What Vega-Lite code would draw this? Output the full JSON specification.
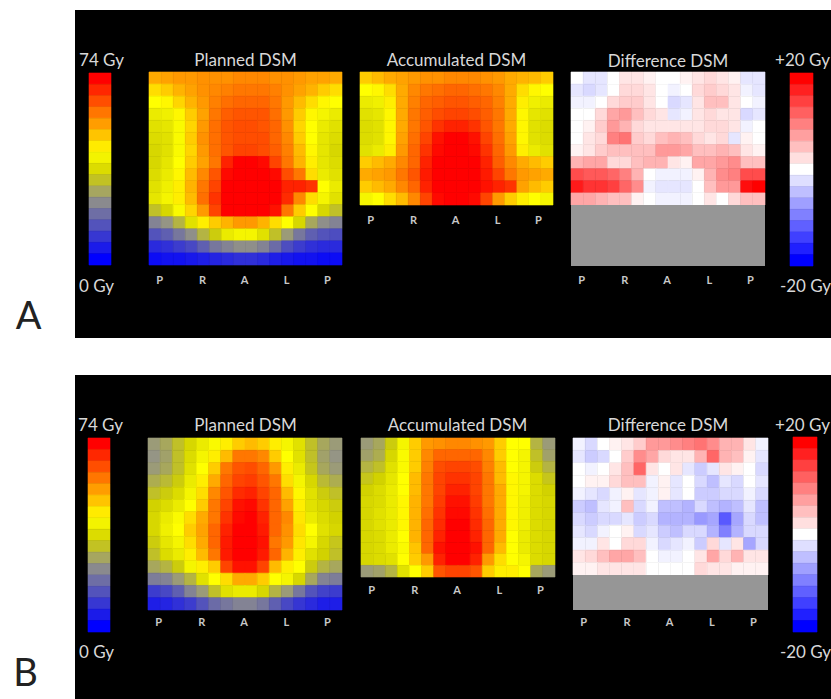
{"$schema":"https://vega.github.io/schema/vega-lite/v6.json","padding":{"top":10,"left":0,"right":0,"bottom":0},"background":"white","columns":6,"align":"each","bounds":"flush","spacing":{"row":37,"column":0},"resolve":{"scale":{"color":"independent","stroke":"independent"}},
"config":{"view":{"fill":"black","stroke":null},"font":"Lato","title":{"color":"#d8d8d8","fontSize":17,"fontWeight":"normal","font":"Lato","baseline":"bottom","frame":"group"},"axis":{"domain":false,"ticks":false,"grid":false},"rect":{"strokeWidth":0.6}},
"datasets":{"lab":[{"a":0,"b":1}],"gA":[{"a":0,"b":1,"c":0,"d":1}],
"a1":[
{"c":0,"r":0,"v":54},{"c":1,"r":0,"v":55},{"c":2,"r":0,"v":56},{"c":3,"r":0,"v":56},{"c":4,"r":0,"v":57},{"c":5,"r":0,"v":57},{"c":6,"r":0,"v":57},{"c":7,"r":0,"v":58},{"c":8,"r":0,"v":58},{"c":9,"r":0,"v":58},{"c":10,"r":0,"v":57},{"c":11,"r":0,"v":57},{"c":12,"r":0,"v":56},{"c":13,"r":0,"v":55},{"c":14,"r":0,"v":55},{"c":15,"r":0,"v":54},
{"c":0,"r":1,"v":48},{"c":1,"r":1,"v":50},{"c":2,"r":1,"v":53},{"c":3,"r":1,"v":55},{"c":4,"r":1,"v":57},{"c":5,"r":1,"v":58},{"c":6,"r":1,"v":59},{"c":7,"r":1,"v":60},{"c":8,"r":1,"v":60},{"c":9,"r":1,"v":60},{"c":10,"r":1,"v":59},{"c":11,"r":1,"v":57},{"c":12,"r":1,"v":55},{"c":13,"r":1,"v":53},{"c":14,"r":1,"v":50},{"c":15,"r":1,"v":48},
{"c":0,"r":2,"v":44},{"c":1,"r":2,"v":45},{"c":2,"r":2,"v":49},{"c":3,"r":2,"v":53},{"c":4,"r":2,"v":56},{"c":5,"r":2,"v":59},{"c":6,"r":2,"v":61},{"c":7,"r":2,"v":62},{"c":8,"r":2,"v":62},{"c":9,"r":2,"v":62},{"c":10,"r":2,"v":60},{"c":11,"r":2,"v":56},{"c":12,"r":2,"v":52},{"c":13,"r":2,"v":48},{"c":14,"r":2,"v":45},{"c":15,"r":2,"v":44},
{"c":0,"r":3,"v":40},{"c":1,"r":3,"v":41},{"c":2,"r":3,"v":45},{"c":3,"r":3,"v":50},{"c":4,"r":3,"v":55},{"c":5,"r":3,"v":60},{"c":6,"r":3,"v":63},{"c":7,"r":3,"v":64},{"c":8,"r":3,"v":64},{"c":9,"r":3,"v":64},{"c":10,"r":3,"v":61},{"c":11,"r":3,"v":56},{"c":12,"r":3,"v":50},{"c":13,"r":3,"v":45},{"c":14,"r":3,"v":42},{"c":15,"r":3,"v":40},
{"c":0,"r":4,"v":38},{"c":1,"r":4,"v":39},{"c":2,"r":4,"v":43},{"c":3,"r":4,"v":49},{"c":4,"r":4,"v":56},{"c":5,"r":4,"v":61},{"c":6,"r":4,"v":64},{"c":7,"r":4,"v":65},{"c":8,"r":4,"v":65},{"c":9,"r":4,"v":64},{"c":10,"r":4,"v":62},{"c":11,"r":4,"v":57},{"c":12,"r":4,"v":49},{"c":13,"r":4,"v":44},{"c":14,"r":4,"v":40},{"c":15,"r":4,"v":38},
{"c":0,"r":5,"v":37},{"c":1,"r":5,"v":38},{"c":2,"r":5,"v":43},{"c":3,"r":5,"v":50},{"c":4,"r":5,"v":57},{"c":5,"r":5,"v":61},{"c":6,"r":5,"v":64},{"c":7,"r":5,"v":65},{"c":8,"r":5,"v":65},{"c":9,"r":5,"v":65},{"c":10,"r":5,"v":62},{"c":11,"r":5,"v":58},{"c":12,"r":5,"v":50},{"c":13,"r":5,"v":44},{"c":14,"r":5,"v":39},{"c":15,"r":5,"v":37},
{"c":0,"r":6,"v":36},{"c":1,"r":6,"v":38},{"c":2,"r":6,"v":43},{"c":3,"r":6,"v":49},{"c":4,"r":6,"v":56},{"c":5,"r":6,"v":61},{"c":6,"r":6,"v":64},{"c":7,"r":6,"v":66},{"c":8,"r":6,"v":66},{"c":9,"r":6,"v":65},{"c":10,"r":6,"v":63},{"c":11,"r":6,"v":59},{"c":12,"r":6,"v":52},{"c":13,"r":6,"v":45},{"c":14,"r":6,"v":39},{"c":15,"r":6,"v":36},
{"c":0,"r":7,"v":36},{"c":1,"r":7,"v":39},{"c":2,"r":7,"v":44},{"c":3,"r":7,"v":50},{"c":4,"r":7,"v":55},{"c":5,"r":7,"v":60},{"c":6,"r":7,"v":70},{"c":7,"r":7,"v":74},{"c":8,"r":7,"v":74},{"c":9,"r":7,"v":73},{"c":10,"r":7,"v":66},{"c":11,"r":7,"v":60},{"c":12,"r":7,"v":53},{"c":13,"r":7,"v":46},{"c":14,"r":7,"v":39},{"c":15,"r":7,"v":37},
{"c":0,"r":8,"v":37},{"c":1,"r":8,"v":40},{"c":2,"r":8,"v":45},{"c":3,"r":8,"v":52},{"c":4,"r":8,"v":58},{"c":5,"r":8,"v":64},{"c":6,"r":8,"v":73},{"c":7,"r":8,"v":74},{"c":8,"r":8,"v":74},{"c":9,"r":8,"v":74},{"c":10,"r":8,"v":73},{"c":11,"r":8,"v":65},{"c":12,"r":8,"v":60},{"c":13,"r":8,"v":48},{"c":14,"r":8,"v":40},{"c":15,"r":8,"v":38},
{"c":0,"r":9,"v":38},{"c":1,"r":9,"v":41},{"c":2,"r":9,"v":46},{"c":3,"r":9,"v":53},{"c":4,"r":9,"v":60},{"c":5,"r":9,"v":66},{"c":6,"r":9,"v":74},{"c":7,"r":9,"v":74},{"c":8,"r":9,"v":74},{"c":9,"r":9,"v":74},{"c":10,"r":9,"v":74},{"c":11,"r":9,"v":70},{"c":12,"r":9,"v":70},{"c":13,"r":9,"v":68},{"c":14,"r":9,"v":44},{"c":15,"r":9,"v":40},
{"c":0,"r":10,"v":39},{"c":1,"r":10,"v":42},{"c":2,"r":10,"v":46},{"c":3,"r":10,"v":52},{"c":4,"r":10,"v":61},{"c":5,"r":10,"v":68},{"c":6,"r":10,"v":74},{"c":7,"r":10,"v":74},{"c":8,"r":10,"v":74},{"c":9,"r":10,"v":74},{"c":10,"r":10,"v":74},{"c":11,"r":10,"v":69},{"c":12,"r":10,"v":58},{"c":13,"r":10,"v":48},{"c":14,"r":10,"v":42},{"c":15,"r":10,"v":38},
{"c":0,"r":11,"v":32},{"c":1,"r":11,"v":36},{"c":2,"r":11,"v":43},{"c":3,"r":11,"v":49},{"c":4,"r":11,"v":56},{"c":5,"r":11,"v":66},{"c":6,"r":11,"v":74},{"c":7,"r":11,"v":74},{"c":8,"r":11,"v":74},{"c":9,"r":11,"v":74},{"c":10,"r":11,"v":72},{"c":11,"r":11,"v":60},{"c":12,"r":11,"v":50},{"c":13,"r":11,"v":44},{"c":14,"r":11,"v":36},{"c":15,"r":11,"v":32},
{"c":0,"r":12,"v":22},{"c":1,"r":12,"v":25},{"c":2,"r":12,"v":30},{"c":3,"r":12,"v":38},{"c":4,"r":12,"v":46},{"c":5,"r":12,"v":50},{"c":6,"r":12,"v":53},{"c":7,"r":12,"v":56},{"c":8,"r":12,"v":56},{"c":9,"r":12,"v":53},{"c":10,"r":12,"v":48},{"c":11,"r":12,"v":44},{"c":12,"r":12,"v":36},{"c":13,"r":12,"v":28},{"c":14,"r":12,"v":24},{"c":15,"r":12,"v":22},
{"c":0,"r":13,"v":14},{"c":1,"r":13,"v":16},{"c":2,"r":13,"v":20},{"c":3,"r":13,"v":24},{"c":4,"r":13,"v":30},{"c":5,"r":13,"v":34},{"c":6,"r":13,"v":40},{"c":7,"r":13,"v":42},{"c":8,"r":13,"v":42},{"c":9,"r":13,"v":38},{"c":10,"r":13,"v":32},{"c":11,"r":13,"v":26},{"c":12,"r":13,"v":20},{"c":13,"r":13,"v":16},{"c":14,"r":13,"v":14},{"c":15,"r":13,"v":13},
{"c":0,"r":14,"v":7},{"c":1,"r":14,"v":8},{"c":2,"r":14,"v":10},{"c":3,"r":14,"v":12},{"c":4,"r":14,"v":16},{"c":5,"r":14,"v":20},{"c":6,"r":14,"v":22},{"c":7,"r":14,"v":24},{"c":8,"r":14,"v":24},{"c":9,"r":14,"v":22},{"c":10,"r":14,"v":18},{"c":11,"r":14,"v":13},{"c":12,"r":14,"v":10},{"c":13,"r":14,"v":8},{"c":14,"r":14,"v":7},{"c":15,"r":14,"v":7},
{"c":0,"r":15,"v":2},{"c":1,"r":15,"v":3},{"c":2,"r":15,"v":3},{"c":3,"r":15,"v":4},{"c":4,"r":15,"v":5},{"c":5,"r":15,"v":6},{"c":6,"r":15,"v":7},{"c":7,"r":15,"v":8},{"c":8,"r":15,"v":8},{"c":9,"r":15,"v":7},{"c":10,"r":15,"v":5},{"c":11,"r":15,"v":4},{"c":12,"r":15,"v":3},{"c":13,"r":15,"v":3},{"c":14,"r":15,"v":2},{"c":15,"r":15,"v":2}],
"a2":[
{"c":0,"r":0,"v":50},{"c":1,"r":0,"v":52},{"c":2,"r":0,"v":54},{"c":3,"r":0,"v":55},{"c":4,"r":0,"v":56},{"c":5,"r":0,"v":57},{"c":6,"r":0,"v":57},{"c":7,"r":0,"v":58},{"c":8,"r":0,"v":58},{"c":9,"r":0,"v":58},{"c":10,"r":0,"v":57},{"c":11,"r":0,"v":56},{"c":12,"r":0,"v":54},{"c":13,"r":0,"v":53},{"c":14,"r":0,"v":52},{"c":15,"r":0,"v":50},
{"c":0,"r":1,"v":44},{"c":1,"r":1,"v":45},{"c":2,"r":1,"v":48},{"c":3,"r":1,"v":54},{"c":4,"r":1,"v":58},{"c":5,"r":1,"v":60},{"c":6,"r":1,"v":61},{"c":7,"r":1,"v":62},{"c":8,"r":1,"v":62},{"c":9,"r":1,"v":61},{"c":10,"r":1,"v":60},{"c":11,"r":1,"v":58},{"c":12,"r":1,"v":54},{"c":13,"r":1,"v":48},{"c":14,"r":1,"v":45},{"c":15,"r":1,"v":44},
{"c":0,"r":2,"v":40},{"c":1,"r":2,"v":41},{"c":2,"r":2,"v":46},{"c":3,"r":2,"v":54},{"c":4,"r":2,"v":59},{"c":5,"r":2,"v":62},{"c":6,"r":2,"v":63},{"c":7,"r":2,"v":64},{"c":8,"r":2,"v":64},{"c":9,"r":2,"v":63},{"c":10,"r":2,"v":62},{"c":11,"r":2,"v":59},{"c":12,"r":2,"v":54},{"c":13,"r":2,"v":46},{"c":14,"r":2,"v":41},{"c":15,"r":2,"v":40},
{"c":0,"r":3,"v":38},{"c":1,"r":3,"v":39},{"c":2,"r":3,"v":45},{"c":3,"r":3,"v":54},{"c":4,"r":3,"v":60},{"c":5,"r":3,"v":63},{"c":6,"r":3,"v":65},{"c":7,"r":3,"v":66},{"c":8,"r":3,"v":66},{"c":9,"r":3,"v":65},{"c":10,"r":3,"v":63},{"c":11,"r":3,"v":60},{"c":12,"r":3,"v":54},{"c":13,"r":3,"v":45},{"c":14,"r":3,"v":39},{"c":15,"r":3,"v":38},
{"c":0,"r":4,"v":37},{"c":1,"r":4,"v":38},{"c":2,"r":4,"v":45},{"c":3,"r":4,"v":54},{"c":4,"r":4,"v":60},{"c":5,"r":4,"v":64},{"c":6,"r":4,"v":68},{"c":7,"r":4,"v":70},{"c":8,"r":4,"v":70},{"c":9,"r":4,"v":68},{"c":10,"r":4,"v":64},{"c":11,"r":4,"v":60},{"c":12,"r":4,"v":54},{"c":13,"r":4,"v":45},{"c":14,"r":4,"v":38},{"c":15,"r":4,"v":37},
{"c":0,"r":5,"v":37},{"c":1,"r":5,"v":38},{"c":2,"r":5,"v":45},{"c":3,"r":5,"v":55},{"c":4,"r":5,"v":61},{"c":5,"r":5,"v":66},{"c":6,"r":5,"v":72},{"c":7,"r":5,"v":74},{"c":8,"r":5,"v":74},{"c":9,"r":5,"v":72},{"c":10,"r":5,"v":66},{"c":11,"r":5,"v":61},{"c":12,"r":5,"v":55},{"c":13,"r":5,"v":45},{"c":14,"r":5,"v":38},{"c":15,"r":5,"v":37},
{"c":0,"r":6,"v":38},{"c":1,"r":6,"v":40},{"c":2,"r":6,"v":46},{"c":3,"r":6,"v":56},{"c":4,"r":6,"v":62},{"c":5,"r":6,"v":68},{"c":6,"r":6,"v":73},{"c":7,"r":6,"v":74},{"c":8,"r":6,"v":74},{"c":9,"r":6,"v":73},{"c":10,"r":6,"v":68},{"c":11,"r":6,"v":62},{"c":12,"r":6,"v":56},{"c":13,"r":6,"v":46},{"c":14,"r":6,"v":40},{"c":15,"r":6,"v":38},
{"c":0,"r":7,"v":50},{"c":1,"r":7,"v":52},{"c":2,"r":7,"v":54},{"c":3,"r":7,"v":58},{"c":4,"r":7,"v":62},{"c":5,"r":7,"v":70},{"c":6,"r":7,"v":74},{"c":7,"r":7,"v":74},{"c":8,"r":7,"v":74},{"c":9,"r":7,"v":74},{"c":10,"r":7,"v":70},{"c":11,"r":7,"v":63},{"c":12,"r":7,"v":58},{"c":13,"r":7,"v":54},{"c":14,"r":7,"v":52},{"c":15,"r":7,"v":50},
{"c":0,"r":8,"v":54},{"c":1,"r":8,"v":55},{"c":2,"r":8,"v":56},{"c":3,"r":8,"v":60},{"c":4,"r":8,"v":64},{"c":5,"r":8,"v":71},{"c":6,"r":8,"v":74},{"c":7,"r":8,"v":74},{"c":8,"r":8,"v":74},{"c":9,"r":8,"v":74},{"c":10,"r":8,"v":71},{"c":11,"r":8,"v":66},{"c":12,"r":8,"v":60},{"c":13,"r":8,"v":56},{"c":14,"r":8,"v":55},{"c":15,"r":8,"v":54},
{"c":0,"r":9,"v":50},{"c":1,"r":9,"v":52},{"c":2,"r":9,"v":54},{"c":3,"r":9,"v":58},{"c":4,"r":9,"v":62},{"c":5,"r":9,"v":70},{"c":6,"r":9,"v":74},{"c":7,"r":9,"v":74},{"c":8,"r":9,"v":74},{"c":9,"r":9,"v":74},{"c":10,"r":9,"v":72},{"c":11,"r":9,"v":70},{"c":12,"r":9,"v":68},{"c":13,"r":9,"v":55},{"c":14,"r":9,"v":52},{"c":15,"r":9,"v":50},
{"c":0,"r":10,"v":42},{"c":1,"r":10,"v":44},{"c":2,"r":10,"v":48},{"c":3,"r":10,"v":52},{"c":4,"r":10,"v":58},{"c":5,"r":10,"v":66},{"c":6,"r":10,"v":73},{"c":7,"r":10,"v":74},{"c":8,"r":10,"v":74},{"c":9,"r":10,"v":73},{"c":10,"r":10,"v":66},{"c":11,"r":10,"v":56},{"c":12,"r":10,"v":50},{"c":13,"r":10,"v":46},{"c":14,"r":10,"v":44},{"c":15,"r":10,"v":42}],
"a3":[
{"c":0,"r":0,"v":0},{"c":1,"r":0,"v":-2},{"c":2,"r":0,"v":-2},{"c":3,"r":0,"v":0},{"c":4,"r":0,"v":2},{"c":5,"r":0,"v":2},{"c":6,"r":0,"v":1},{"c":7,"r":0,"v":0},{"c":8,"r":0,"v":0},{"c":9,"r":0,"v":1},{"c":10,"r":0,"v":2},{"c":11,"r":0,"v":3},{"c":12,"r":0,"v":2},{"c":13,"r":0,"v":1},{"c":14,"r":0,"v":-2},{"c":15,"r":0,"v":-2},
{"c":0,"r":1,"v":-2},{"c":1,"r":1,"v":-3},{"c":2,"r":1,"v":-2},{"c":3,"r":1,"v":0},{"c":4,"r":1,"v":3},{"c":5,"r":1,"v":3},{"c":6,"r":1,"v":2},{"c":7,"r":1,"v":0},{"c":8,"r":1,"v":-1},{"c":9,"r":1,"v":0},{"c":10,"r":1,"v":3},{"c":11,"r":1,"v":4},{"c":12,"r":1,"v":3},{"c":13,"r":1,"v":2},{"c":14,"r":1,"v":-1},{"c":15,"r":1,"v":-2},
{"c":0,"r":2,"v":-1},{"c":1,"r":2,"v":-1},{"c":2,"r":2,"v":0},{"c":3,"r":2,"v":3},{"c":4,"r":2,"v":4},{"c":5,"r":2,"v":4},{"c":6,"r":2,"v":2},{"c":7,"r":2,"v":0},{"c":8,"r":2,"v":-3},{"c":9,"r":2,"v":-2},{"c":10,"r":2,"v":2},{"c":11,"r":2,"v":5},{"c":12,"r":2,"v":5},{"c":13,"r":2,"v":2},{"c":14,"r":2,"v":0},{"c":15,"r":2,"v":-1},
{"c":0,"r":3,"v":0},{"c":1,"r":3,"v":0},{"c":2,"r":3,"v":3},{"c":3,"r":3,"v":7},{"c":4,"r":3,"v":8},{"c":5,"r":3,"v":5},{"c":6,"r":3,"v":3},{"c":7,"r":3,"v":2},{"c":8,"r":3,"v":-2},{"c":9,"r":3,"v":-1},{"c":10,"r":3,"v":2},{"c":11,"r":3,"v":3},{"c":12,"r":3,"v":2},{"c":13,"r":3,"v":2},{"c":14,"r":3,"v":-3},{"c":15,"r":3,"v":-2},
{"c":0,"r":4,"v":0},{"c":1,"r":4,"v":1},{"c":2,"r":4,"v":4},{"c":3,"r":4,"v":8},{"c":4,"r":4,"v":6},{"c":5,"r":4,"v":3},{"c":6,"r":4,"v":2},{"c":7,"r":4,"v":2},{"c":8,"r":4,"v":2},{"c":9,"r":4,"v":2},{"c":10,"r":4,"v":2},{"c":11,"r":4,"v":3},{"c":12,"r":4,"v":3},{"c":13,"r":4,"v":2},{"c":14,"r":4,"v":-1},{"c":15,"r":4,"v":0},
{"c":0,"r":5,"v":0},{"c":1,"r":5,"v":2},{"c":2,"r":5,"v":3},{"c":3,"r":5,"v":10},{"c":4,"r":5,"v":11},{"c":5,"r":5,"v":4},{"c":6,"r":5,"v":3},{"c":7,"r":5,"v":5},{"c":8,"r":5,"v":6},{"c":9,"r":5,"v":5},{"c":10,"r":5,"v":3},{"c":11,"r":5,"v":2},{"c":12,"r":5,"v":3},{"c":13,"r":5,"v":-2},{"c":14,"r":5,"v":1},{"c":15,"r":5,"v":0},
{"c":0,"r":6,"v":1},{"c":1,"r":6,"v":2},{"c":2,"r":6,"v":4},{"c":3,"r":6,"v":5},{"c":4,"r":6,"v":5},{"c":5,"r":6,"v":5},{"c":6,"r":6,"v":5},{"c":7,"r":6,"v":8},{"c":8,"r":6,"v":8},{"c":9,"r":6,"v":7},{"c":10,"r":6,"v":5},{"c":11,"r":6,"v":5},{"c":12,"r":6,"v":6},{"c":13,"r":6,"v":5},{"c":14,"r":6,"v":2},{"c":15,"r":6,"v":1},
{"c":0,"r":7,"v":6},{"c":1,"r":7,"v":7},{"c":2,"r":7,"v":7},{"c":3,"r":7,"v":3},{"c":4,"r":7,"v":3},{"c":5,"r":7,"v":5},{"c":6,"r":7,"v":6},{"c":7,"r":7,"v":6},{"c":8,"r":7,"v":2},{"c":9,"r":7,"v":1},{"c":10,"r":7,"v":7},{"c":11,"r":7,"v":7},{"c":12,"r":7,"v":8},{"c":13,"r":7,"v":9},{"c":14,"r":7,"v":5},{"c":15,"r":7,"v":5},
{"c":0,"r":8,"v":14},{"c":1,"r":8,"v":13},{"c":2,"r":8,"v":13},{"c":3,"r":8,"v":12},{"c":4,"r":8,"v":10},{"c":5,"r":8,"v":6},{"c":6,"r":8,"v":0},{"c":7,"r":8,"v":-1},{"c":8,"r":8,"v":-1},{"c":9,"r":8,"v":-1},{"c":10,"r":8,"v":1},{"c":11,"r":8,"v":6},{"c":12,"r":8,"v":9},{"c":13,"r":8,"v":10},{"c":14,"r":8,"v":14},{"c":15,"r":8,"v":14},
{"c":0,"r":9,"v":18},{"c":1,"r":9,"v":16},{"c":2,"r":9,"v":16},{"c":3,"r":9,"v":15},{"c":4,"r":9,"v":12},{"c":5,"r":9,"v":9},{"c":6,"r":9,"v":-1},{"c":7,"r":9,"v":-2},{"c":8,"r":9,"v":-2},{"c":9,"r":9,"v":-2},{"c":10,"r":9,"v":0},{"c":11,"r":9,"v":5},{"c":12,"r":9,"v":8},{"c":13,"r":9,"v":8},{"c":14,"r":9,"v":19},{"c":15,"r":9,"v":20},
{"c":0,"r":10,"v":7},{"c":1,"r":10,"v":7},{"c":2,"r":10,"v":6},{"c":3,"r":10,"v":5},{"c":4,"r":10,"v":5},{"c":5,"r":10,"v":1},{"c":6,"r":10,"v":0},{"c":7,"r":10,"v":-1},{"c":8,"r":10,"v":-1},{"c":9,"r":10,"v":-1},{"c":10,"r":10,"v":0},{"c":11,"r":10,"v":2},{"c":12,"r":10,"v":0},{"c":13,"r":10,"v":3},{"c":14,"r":10,"v":5},{"c":15,"r":10,"v":5}],
"b1":[
{"c":0,"r":0,"v":26},{"c":1,"r":0,"v":28},{"c":2,"r":0,"v":32},{"c":3,"r":0,"v":36},{"c":4,"r":0,"v":40},{"c":5,"r":0,"v":43},{"c":6,"r":0,"v":46},{"c":7,"r":0,"v":50},{"c":8,"r":0,"v":52},{"c":9,"r":0,"v":50},{"c":10,"r":0,"v":46},{"c":11,"r":0,"v":42},{"c":12,"r":0,"v":38},{"c":13,"r":0,"v":32},{"c":14,"r":0,"v":28},{"c":15,"r":0,"v":26},
{"c":0,"r":1,"v":25},{"c":1,"r":1,"v":27},{"c":2,"r":1,"v":32},{"c":3,"r":1,"v":37},{"c":4,"r":1,"v":42},{"c":5,"r":1,"v":46},{"c":6,"r":1,"v":52},{"c":7,"r":1,"v":60},{"c":8,"r":1,"v":60},{"c":9,"r":1,"v":58},{"c":10,"r":1,"v":50},{"c":11,"r":1,"v":44},{"c":12,"r":1,"v":38},{"c":13,"r":1,"v":32},{"c":14,"r":1,"v":27},{"c":15,"r":1,"v":25},
{"c":0,"r":2,"v":26},{"c":1,"r":2,"v":28},{"c":2,"r":2,"v":32},{"c":3,"r":2,"v":38},{"c":4,"r":2,"v":44},{"c":5,"r":2,"v":50},{"c":6,"r":2,"v":60},{"c":7,"r":2,"v":64},{"c":8,"r":2,"v":65},{"c":9,"r":2,"v":62},{"c":10,"r":2,"v":56},{"c":11,"r":2,"v":46},{"c":12,"r":2,"v":40},{"c":13,"r":2,"v":33},{"c":14,"r":2,"v":28},{"c":15,"r":2,"v":26},
{"c":0,"r":3,"v":29},{"c":1,"r":3,"v":31},{"c":2,"r":3,"v":34},{"c":3,"r":3,"v":40},{"c":4,"r":3,"v":46},{"c":5,"r":3,"v":54},{"c":6,"r":3,"v":62},{"c":7,"r":3,"v":66},{"c":8,"r":3,"v":67},{"c":9,"r":3,"v":64},{"c":10,"r":3,"v":60},{"c":11,"r":3,"v":48},{"c":12,"r":3,"v":42},{"c":13,"r":3,"v":36},{"c":14,"r":3,"v":31},{"c":15,"r":3,"v":29},
{"c":0,"r":4,"v":32},{"c":1,"r":4,"v":34},{"c":2,"r":4,"v":37},{"c":3,"r":4,"v":42},{"c":4,"r":4,"v":48},{"c":5,"r":4,"v":58},{"c":6,"r":4,"v":64},{"c":7,"r":4,"v":69},{"c":8,"r":4,"v":70},{"c":9,"r":4,"v":66},{"c":10,"r":4,"v":62},{"c":11,"r":4,"v":52},{"c":12,"r":4,"v":45},{"c":13,"r":4,"v":38},{"c":14,"r":4,"v":34},{"c":15,"r":4,"v":32},
{"c":0,"r":5,"v":35},{"c":1,"r":5,"v":37},{"c":2,"r":5,"v":40},{"c":3,"r":5,"v":44},{"c":4,"r":5,"v":50},{"c":5,"r":5,"v":60},{"c":6,"r":5,"v":66},{"c":7,"r":5,"v":72},{"c":8,"r":5,"v":73},{"c":9,"r":5,"v":68},{"c":10,"r":5,"v":62},{"c":11,"r":5,"v":55},{"c":12,"r":5,"v":46},{"c":13,"r":5,"v":38},{"c":14,"r":5,"v":36},{"c":15,"r":5,"v":34},
{"c":0,"r":6,"v":36},{"c":1,"r":6,"v":40},{"c":2,"r":6,"v":43},{"c":3,"r":6,"v":48},{"c":4,"r":6,"v":54},{"c":5,"r":6,"v":60},{"c":6,"r":6,"v":68},{"c":7,"r":6,"v":73},{"c":8,"r":6,"v":74},{"c":9,"r":6,"v":70},{"c":10,"r":6,"v":62},{"c":11,"r":6,"v":58},{"c":12,"r":6,"v":47},{"c":13,"r":6,"v":40},{"c":14,"r":6,"v":37},{"c":15,"r":6,"v":35},
{"c":0,"r":7,"v":36},{"c":1,"r":7,"v":41},{"c":2,"r":7,"v":44},{"c":3,"r":7,"v":50},{"c":4,"r":7,"v":55},{"c":5,"r":7,"v":62},{"c":6,"r":7,"v":70},{"c":7,"r":7,"v":74},{"c":8,"r":7,"v":74},{"c":9,"r":7,"v":71},{"c":10,"r":7,"v":62},{"c":11,"r":7,"v":57},{"c":12,"r":7,"v":48},{"c":13,"r":7,"v":44},{"c":14,"r":7,"v":38},{"c":15,"r":7,"v":36},
{"c":0,"r":8,"v":34},{"c":1,"r":8,"v":39},{"c":2,"r":8,"v":42},{"c":3,"r":8,"v":48},{"c":4,"r":8,"v":54},{"c":5,"r":8,"v":62},{"c":6,"r":8,"v":71},{"c":7,"r":8,"v":74},{"c":8,"r":8,"v":74},{"c":9,"r":8,"v":72},{"c":10,"r":8,"v":60},{"c":11,"r":8,"v":56},{"c":12,"r":8,"v":47},{"c":13,"r":8,"v":42},{"c":14,"r":8,"v":36},{"c":15,"r":8,"v":33},
{"c":0,"r":9,"v":32},{"c":1,"r":9,"v":37},{"c":2,"r":9,"v":40},{"c":3,"r":9,"v":46},{"c":4,"r":9,"v":52},{"c":5,"r":9,"v":60},{"c":6,"r":9,"v":71},{"c":7,"r":9,"v":74},{"c":8,"r":9,"v":74},{"c":9,"r":9,"v":71},{"c":10,"r":9,"v":62},{"c":11,"r":9,"v":53},{"c":12,"r":9,"v":46},{"c":13,"r":9,"v":38},{"c":14,"r":9,"v":35},{"c":15,"r":9,"v":32},
{"c":0,"r":10,"v":28},{"c":1,"r":10,"v":30},{"c":2,"r":10,"v":34},{"c":3,"r":10,"v":42},{"c":4,"r":10,"v":46},{"c":5,"r":10,"v":50},{"c":6,"r":10,"v":66},{"c":7,"r":10,"v":72},{"c":8,"r":10,"v":72},{"c":9,"r":10,"v":66},{"c":10,"r":10,"v":52},{"c":11,"r":10,"v":46},{"c":12,"r":10,"v":44},{"c":13,"r":10,"v":34},{"c":14,"r":10,"v":30},{"c":15,"r":10,"v":28},
{"c":0,"r":11,"v":21},{"c":1,"r":11,"v":22},{"c":2,"r":11,"v":26},{"c":3,"r":11,"v":30},{"c":4,"r":11,"v":38},{"c":5,"r":11,"v":44},{"c":6,"r":11,"v":48},{"c":7,"r":11,"v":54},{"c":8,"r":11,"v":54},{"c":9,"r":11,"v":50},{"c":10,"r":11,"v":44},{"c":11,"r":11,"v":42},{"c":12,"r":11,"v":36},{"c":13,"r":11,"v":28},{"c":14,"r":11,"v":22},{"c":15,"r":11,"v":21},
{"c":0,"r":12,"v":10},{"c":1,"r":12,"v":12},{"c":2,"r":12,"v":16},{"c":3,"r":12,"v":22},{"c":4,"r":12,"v":26},{"c":5,"r":12,"v":32},{"c":6,"r":12,"v":38},{"c":7,"r":12,"v":40},{"c":8,"r":12,"v":40},{"c":9,"r":12,"v":36},{"c":10,"r":12,"v":30},{"c":11,"r":12,"v":26},{"c":12,"r":12,"v":20},{"c":13,"r":12,"v":14},{"c":14,"r":12,"v":11},{"c":15,"r":12,"v":10},
{"c":0,"r":13,"v":5},{"c":1,"r":13,"v":6},{"c":2,"r":13,"v":8},{"c":3,"r":13,"v":10},{"c":4,"r":13,"v":14},{"c":5,"r":13,"v":18},{"c":6,"r":13,"v":20},{"c":7,"r":13,"v":22},{"c":8,"r":13,"v":22},{"c":9,"r":13,"v":20},{"c":10,"r":13,"v":16},{"c":11,"r":13,"v":12},{"c":12,"r":13,"v":9},{"c":13,"r":13,"v":7},{"c":14,"r":13,"v":5},{"c":15,"r":13,"v":5}],
"b2":[
{"c":0,"r":0,"v":26},{"c":1,"r":0,"v":28},{"c":2,"r":0,"v":34},{"c":3,"r":0,"v":42},{"c":4,"r":0,"v":50},{"c":5,"r":0,"v":56},{"c":6,"r":0,"v":57},{"c":7,"r":0,"v":58},{"c":8,"r":0,"v":58},{"c":9,"r":0,"v":57},{"c":10,"r":0,"v":56},{"c":11,"r":0,"v":50},{"c":12,"r":0,"v":44},{"c":13,"r":0,"v":44},{"c":14,"r":0,"v":30},{"c":15,"r":0,"v":26},
{"c":0,"r":1,"v":27},{"c":1,"r":1,"v":29},{"c":2,"r":1,"v":36},{"c":3,"r":1,"v":43},{"c":4,"r":1,"v":50},{"c":5,"r":1,"v":58},{"c":6,"r":1,"v":62},{"c":7,"r":1,"v":62},{"c":8,"r":1,"v":62},{"c":9,"r":1,"v":62},{"c":10,"r":1,"v":58},{"c":11,"r":1,"v":50},{"c":12,"r":1,"v":44},{"c":13,"r":1,"v":42},{"c":14,"r":1,"v":32},{"c":15,"r":1,"v":27},
{"c":0,"r":2,"v":30},{"c":1,"r":2,"v":32},{"c":2,"r":2,"v":38},{"c":3,"r":2,"v":43},{"c":4,"r":2,"v":50},{"c":5,"r":2,"v":59},{"c":6,"r":2,"v":65},{"c":7,"r":2,"v":66},{"c":8,"r":2,"v":66},{"c":9,"r":2,"v":65},{"c":10,"r":2,"v":59},{"c":11,"r":2,"v":52},{"c":12,"r":2,"v":44},{"c":13,"r":2,"v":42},{"c":14,"r":2,"v":34},{"c":15,"r":2,"v":30},
{"c":0,"r":3,"v":33},{"c":1,"r":3,"v":35},{"c":2,"r":3,"v":39},{"c":3,"r":3,"v":44},{"c":4,"r":3,"v":52},{"c":5,"r":3,"v":60},{"c":6,"r":3,"v":66},{"c":7,"r":3,"v":68},{"c":8,"r":3,"v":68},{"c":9,"r":3,"v":66},{"c":10,"r":3,"v":60},{"c":11,"r":3,"v":52},{"c":12,"r":3,"v":45},{"c":13,"r":3,"v":42},{"c":14,"r":3,"v":37},{"c":15,"r":3,"v":33},
{"c":0,"r":4,"v":35},{"c":1,"r":4,"v":37},{"c":2,"r":4,"v":40},{"c":3,"r":4,"v":44},{"c":4,"r":4,"v":52},{"c":5,"r":4,"v":60},{"c":6,"r":4,"v":66},{"c":7,"r":4,"v":70},{"c":8,"r":4,"v":70},{"c":9,"r":4,"v":66},{"c":10,"r":4,"v":60},{"c":11,"r":4,"v":54},{"c":12,"r":4,"v":45},{"c":13,"r":4,"v":42},{"c":14,"r":4,"v":37},{"c":15,"r":4,"v":35},
{"c":0,"r":5,"v":36},{"c":1,"r":5,"v":37},{"c":2,"r":5,"v":40},{"c":3,"r":5,"v":45},{"c":4,"r":5,"v":53},{"c":5,"r":5,"v":60},{"c":6,"r":5,"v":67},{"c":7,"r":5,"v":72},{"c":8,"r":5,"v":72},{"c":9,"r":5,"v":67},{"c":10,"r":5,"v":60},{"c":11,"r":5,"v":54},{"c":12,"r":5,"v":45},{"c":13,"r":5,"v":41},{"c":14,"r":5,"v":37},{"c":15,"r":5,"v":36},
{"c":0,"r":6,"v":36},{"c":1,"r":6,"v":38},{"c":2,"r":6,"v":40},{"c":3,"r":6,"v":45},{"c":4,"r":6,"v":53},{"c":5,"r":6,"v":61},{"c":6,"r":6,"v":68},{"c":7,"r":6,"v":73},{"c":8,"r":6,"v":73},{"c":9,"r":6,"v":68},{"c":10,"r":6,"v":61},{"c":11,"r":6,"v":54},{"c":12,"r":6,"v":45},{"c":13,"r":6,"v":41},{"c":14,"r":6,"v":37},{"c":15,"r":6,"v":36},
{"c":0,"r":7,"v":36},{"c":1,"r":7,"v":38},{"c":2,"r":7,"v":40},{"c":3,"r":7,"v":45},{"c":4,"r":7,"v":53},{"c":5,"r":7,"v":62},{"c":6,"r":7,"v":69},{"c":7,"r":7,"v":74},{"c":8,"r":7,"v":74},{"c":9,"r":7,"v":69},{"c":10,"r":7,"v":62},{"c":11,"r":7,"v":54},{"c":12,"r":7,"v":45},{"c":13,"r":7,"v":41},{"c":14,"r":7,"v":37},{"c":15,"r":7,"v":36},
{"c":0,"r":8,"v":36},{"c":1,"r":8,"v":37},{"c":2,"r":8,"v":40},{"c":3,"r":8,"v":44},{"c":4,"r":8,"v":53},{"c":5,"r":8,"v":62},{"c":6,"r":8,"v":70},{"c":7,"r":8,"v":74},{"c":8,"r":8,"v":74},{"c":9,"r":8,"v":70},{"c":10,"r":8,"v":62},{"c":11,"r":8,"v":54},{"c":12,"r":8,"v":44},{"c":13,"r":8,"v":40},{"c":14,"r":8,"v":37},{"c":15,"r":8,"v":36},
{"c":0,"r":9,"v":36},{"c":1,"r":9,"v":37},{"c":2,"r":9,"v":40},{"c":3,"r":9,"v":43},{"c":4,"r":9,"v":51},{"c":5,"r":9,"v":62},{"c":6,"r":9,"v":72},{"c":7,"r":9,"v":74},{"c":8,"r":9,"v":74},{"c":9,"r":9,"v":72},{"c":10,"r":9,"v":62},{"c":11,"r":9,"v":52},{"c":12,"r":9,"v":44},{"c":13,"r":9,"v":40},{"c":14,"r":9,"v":37},{"c":15,"r":9,"v":36},
{"c":0,"r":10,"v":36},{"c":1,"r":10,"v":37},{"c":2,"r":10,"v":38},{"c":3,"r":10,"v":44},{"c":4,"r":10,"v":50},{"c":5,"r":10,"v":56},{"c":6,"r":10,"v":70},{"c":7,"r":10,"v":74},{"c":8,"r":10,"v":74},{"c":9,"r":10,"v":70},{"c":10,"r":10,"v":56},{"c":11,"r":10,"v":48},{"c":12,"r":10,"v":44},{"c":13,"r":10,"v":42},{"c":14,"r":10,"v":37},{"c":15,"r":10,"v":36},
{"c":0,"r":11,"v":26},{"c":1,"r":11,"v":27},{"c":2,"r":11,"v":30},{"c":3,"r":11,"v":38},{"c":4,"r":11,"v":44},{"c":5,"r":11,"v":50},{"c":6,"r":11,"v":64},{"c":7,"r":11,"v":66},{"c":8,"r":11,"v":66},{"c":9,"r":11,"v":64},{"c":10,"r":11,"v":50},{"c":11,"r":11,"v":46},{"c":12,"r":11,"v":46},{"c":13,"r":11,"v":44},{"c":14,"r":11,"v":28},{"c":15,"r":11,"v":26}],
"b3":[
{"c":0,"r":0,"v":-1},{"c":1,"r":0,"v":-3},{"c":2,"r":0,"v":0},{"c":3,"r":0,"v":1},{"c":4,"r":0,"v":2},{"c":5,"r":0,"v":4},{"c":6,"r":0,"v":8},{"c":7,"r":0,"v":8},{"c":8,"r":0,"v":9},{"c":9,"r":0,"v":10},{"c":10,"r":0,"v":11},{"c":11,"r":0,"v":9},{"c":12,"r":0,"v":6},{"c":13,"r":0,"v":6},{"c":14,"r":0,"v":2},{"c":15,"r":0,"v":-1},
{"c":0,"r":1,"v":-2},{"c":1,"r":1,"v":-4},{"c":2,"r":1,"v":-3},{"c":3,"r":1,"v":0},{"c":4,"r":1,"v":4},{"c":5,"r":1,"v":9},{"c":6,"r":1,"v":7},{"c":7,"r":1,"v":3},{"c":8,"r":1,"v":2},{"c":9,"r":1,"v":2},{"c":10,"r":1,"v":6},{"c":11,"r":1,"v":12},{"c":12,"r":1,"v":6},{"c":13,"r":1,"v":5},{"c":14,"r":1,"v":1},{"c":15,"r":1,"v":-2},
{"c":0,"r":2,"v":0},{"c":1,"r":2,"v":-1},{"c":2,"r":2,"v":0},{"c":3,"r":2,"v":2},{"c":4,"r":2,"v":5},{"c":5,"r":2,"v":12},{"c":6,"r":2,"v":2},{"c":7,"r":2,"v":0},{"c":8,"r":2,"v":2},{"c":9,"r":2,"v":-2},{"c":10,"r":2,"v":-4},{"c":11,"r":2,"v":-2},{"c":12,"r":2,"v":2},{"c":13,"r":2,"v":1},{"c":14,"r":2,"v":0},{"c":15,"r":2,"v":-3},
{"c":0,"r":3,"v":0},{"c":1,"r":3,"v":1},{"c":2,"r":3,"v":1},{"c":3,"r":3,"v":3},{"c":4,"r":3,"v":5},{"c":5,"r":3,"v":5},{"c":6,"r":3,"v":-1},{"c":7,"r":3,"v":1},{"c":8,"r":3,"v":-2},{"c":9,"r":3,"v":0},{"c":10,"r":3,"v":-3},{"c":11,"r":3,"v":-5},{"c":12,"r":3,"v":-2},{"c":13,"r":3,"v":-3},{"c":14,"r":3,"v":0},{"c":15,"r":3,"v":-2},
{"c":0,"r":4,"v":-1},{"c":1,"r":4,"v":-2},{"c":2,"r":4,"v":-3},{"c":3,"r":4,"v":-1},{"c":4,"r":4,"v":1},{"c":5,"r":4,"v":-2},{"c":6,"r":4,"v":-1},{"c":7,"r":4,"v":1},{"c":8,"r":4,"v":-2},{"c":9,"r":4,"v":0},{"c":10,"r":4,"v":-4},{"c":11,"r":4,"v":-4},{"c":12,"r":4,"v":-3},{"c":13,"r":4,"v":-3},{"c":14,"r":4,"v":-1},{"c":15,"r":4,"v":-3},
{"c":0,"r":5,"v":-4},{"c":1,"r":5,"v":-5},{"c":2,"r":5,"v":-2},{"c":3,"r":5,"v":-1},{"c":4,"r":5,"v":5},{"c":5,"r":5,"v":-3},{"c":6,"r":5,"v":-1},{"c":7,"r":5,"v":-5},{"c":8,"r":5,"v":-5},{"c":9,"r":5,"v":-6},{"c":10,"r":5,"v":-3},{"c":11,"r":5,"v":-5},{"c":12,"r":5,"v":-6},{"c":13,"r":5,"v":-5},{"c":14,"r":5,"v":-2},{"c":15,"r":5,"v":-5},
{"c":0,"r":6,"v":-3},{"c":1,"r":6,"v":-4},{"c":2,"r":6,"v":-3},{"c":3,"r":6,"v":-3},{"c":4,"r":6,"v":-2},{"c":5,"r":6,"v":-4},{"c":6,"r":6,"v":-3},{"c":7,"r":6,"v":-6},{"c":8,"r":6,"v":-6},{"c":9,"r":6,"v":-6},{"c":10,"r":6,"v":-8},{"c":11,"r":6,"v":-7},{"c":12,"r":6,"v":-13},{"c":13,"r":6,"v":-7},{"c":14,"r":6,"v":-3},{"c":15,"r":6,"v":-5},
{"c":0,"r":7,"v":-2},{"c":1,"r":7,"v":-3},{"c":2,"r":7,"v":-1},{"c":3,"r":7,"v":0},{"c":4,"r":7,"v":1},{"c":5,"r":7,"v":-3},{"c":6,"r":7,"v":-2},{"c":7,"r":7,"v":-4},{"c":8,"r":7,"v":-5},{"c":9,"r":7,"v":-3},{"c":10,"r":7,"v":-3},{"c":11,"r":7,"v":-6},{"c":12,"r":7,"v":-10},{"c":13,"r":7,"v":-6},{"c":14,"r":7,"v":-3},{"c":15,"r":7,"v":-3},
{"c":0,"r":8,"v":-1},{"c":1,"r":8,"v":-1},{"c":2,"r":8,"v":2},{"c":3,"r":8,"v":0},{"c":4,"r":8,"v":3},{"c":5,"r":8,"v":3},{"c":6,"r":8,"v":-1},{"c":7,"r":8,"v":-3},{"c":8,"r":8,"v":-2},{"c":9,"r":8,"v":-1},{"c":10,"r":8,"v":-4},{"c":11,"r":8,"v":3},{"c":12,"r":8,"v":-2},{"c":13,"r":8,"v":2},{"c":14,"r":8,"v":-7},{"c":15,"r":8,"v":-3},
{"c":0,"r":9,"v":2},{"c":1,"r":9,"v":3},{"c":2,"r":9,"v":5},{"c":3,"r":9,"v":7},{"c":4,"r":9,"v":7},{"c":5,"r":9,"v":5},{"c":6,"r":9,"v":0},{"c":7,"r":9,"v":-1},{"c":8,"r":9,"v":-1},{"c":9,"r":9,"v":0},{"c":10,"r":9,"v":2},{"c":11,"r":9,"v":7},{"c":12,"r":9,"v":3},{"c":13,"r":9,"v":6},{"c":14,"r":9,"v":2},{"c":15,"r":9,"v":2},
{"c":0,"r":10,"v":1},{"c":1,"r":10,"v":1},{"c":2,"r":10,"v":2},{"c":3,"r":10,"v":2},{"c":4,"r":10,"v":2},{"c":5,"r":10,"v":2},{"c":6,"r":10,"v":0},{"c":7,"r":10,"v":0},{"c":8,"r":10,"v":0},{"c":9,"r":10,"v":0},{"c":10,"r":10,"v":3},{"c":11,"r":10,"v":2},{"c":12,"r":10,"v":2},{"c":13,"r":10,"v":1},{"c":14,"r":10,"v":1},{"c":15,"r":10,"v":1}],
"cd":[{"k":"dose","r":0,"v":74},{"k":"dose","r":1,"v":69.4},{"k":"dose","r":2,"v":64.8},{"k":"dose","r":3,"v":60.1},{"k":"dose","r":4,"v":55.5},{"k":"dose","r":5,"v":50.9},{"k":"dose","r":6,"v":46.3},{"k":"dose","r":7,"v":41.6},{"k":"dose","r":8,"v":37},{"k":"dose","r":9,"v":32.4},{"k":"dose","r":10,"v":27.8},{"k":"dose","r":11,"v":23.1},{"k":"dose","r":12,"v":18.5},{"k":"dose","r":13,"v":13.9},{"k":"dose","r":14,"v":9.3},{"k":"dose","r":15,"v":4.6},{"k":"dose","r":16,"v":0}],
"cf":[{"k":"diff","r":0,"v":20},{"k":"diff","r":1,"v":17.5},{"k":"diff","r":2,"v":15},{"k":"diff","r":3,"v":12.5},{"k":"diff","r":4,"v":10},{"k":"diff","r":5,"v":7.5},{"k":"diff","r":6,"v":5},{"k":"diff","r":7,"v":2.5},{"k":"diff","r":8,"v":0},{"k":"diff","r":9,"v":-2.5},{"k":"diff","r":10,"v":-5},{"k":"diff","r":11,"v":-7.5},{"k":"diff","r":12,"v":-10},{"k":"diff","r":13,"v":-12.5},{"k":"diff","r":14,"v":-15},{"k":"diff","r":15,"v":-17.5},{"k":"diff","r":16,"v":-20}]},
"concat":[
{"width":75,"height":328,"view":{"fill":"white"},"data":{"values":[{"t":"A"}]},"mark":{"type":"text","fontSize":38,"font":"Lato","color":"#222222","dx":-9,"dy":144},"encoding":{"text":{"field":"t"}}},
{"width":65,"height":328,"title":{"text":"74 Gy","offset":-60,"dx":-6},"data":{"name":"cd"},"mark":"rect","encoding":{"x":{"field":"k","type":"nominal","scale":{"type":"band","range":[14,36]},"axis":{"labels":false,"title":"0 Gy","titleColor":"#d8d8d8","titleFontSize":17,"titleFontWeight":"normal","titleX":21,"titleY":-52,"titleBaseline":"middle"}},"y":{"field":"r","type":"ordinal","scale":{"type":"band","range":[63,255]},"axis":null},"color":{"field":"v","type":"quantitative","legend":null,"scale":{"interpolate":"rgb","domain":[0,25,35,44,74],"range":["#0000ff","#959585","#d2d200","#ffff00","#ff0000"]}},"stroke":{"field":"v","type":"quantitative","legend":null,"scale":{"interpolate":"rgb","domain":[0,25,35,44,74],"range":["#0000ff","#959585","#d2d200","#ffff00","#ff0000"]}}}},
{"width":211,"height":328,"title":{"text":"Planned DSM","offset":-60},"layer":[{"data":{"name":"a1"},"mark":"rect","encoding":{"x":{"field":"c","type":"ordinal","scale":{"type":"band","range":[9,202]},"axis":null},"y":{"field":"r","type":"ordinal","scale":{"type":"band","range":[62,255]},"axis":null},"color":{"field":"v","type":"quantitative","legend":null,"scale":{"interpolate":"rgb","domain":[0,25,35,44,74],"range":["#0000ff","#959585","#d2d200","#ffff00","#ff0000"]}},"stroke":{"field":"v","type":"quantitative","legend":null,"scale":{"interpolate":"rgb","domain":[0,25,35,44,74],"range":["#0000ff","#959585","#d2d200","#ffff00","#ff0000"]}}}},{"data":{"name":"lab"},"mark":{"type":"rect","opacity":0},"encoding":{"x":{"field":"a","type":"quantitative","scale":{"domain":[0,1],"range":[9,202]},"axis":{"values":[0.052,0.275,0.492,0.71,0.922],"labelExpr":"{'0.052':'P','0.275':'R','0.492':'A','0.71':'L','0.922':'P'}[datum.value]","labelColor":"#c8c8c8","labelFontSize":11,"labelFontWeight":"bold","labelPadding":0,"labelFlush":false,"labelOverlap":false,"offset":-64,"title":null}},"x2":{"field":"b"}}}],"resolve":{"scale":{"x":"independent","y":"independent"}}},
{"width":211,"height":328,"title":{"text":"Accumulated DSM","offset":-60},"layer":[{"data":{"name":"a2"},"mark":"rect","encoding":{"x":{"field":"c","type":"ordinal","scale":{"type":"band","range":[9,202]},"axis":null},"y":{"field":"r","type":"ordinal","scale":{"type":"band","range":[62,195]},"axis":null},"color":{"field":"v","type":"quantitative","legend":null,"scale":{"interpolate":"rgb","domain":[0,25,35,44,74],"range":["#0000ff","#959585","#d2d200","#ffff00","#ff0000"]}},"stroke":{"field":"v","type":"quantitative","legend":null,"scale":{"interpolate":"rgb","domain":[0,25,35,44,74],"range":["#0000ff","#959585","#d2d200","#ffff00","#ff0000"]}}}},{"data":{"name":"lab"},"mark":{"type":"rect","opacity":0},"encoding":{"x":{"field":"a","type":"quantitative","scale":{"domain":[0,1],"range":[9,202]},"axis":{"values":[0.052,0.275,0.492,0.71,0.922],"labelExpr":"{'0.052':'P','0.275':'R','0.492':'A','0.71':'L','0.922':'P'}[datum.value]","labelColor":"#c8c8c8","labelFontSize":11,"labelFontWeight":"bold","labelPadding":0,"labelFlush":false,"labelOverlap":false,"offset":-124,"title":null}},"x2":{"field":"b"}}}],"resolve":{"scale":{"x":"independent","y":"independent"}}},
{"width":212,"height":328,"title":{"text":"Difference DSM","offset":-61},"layer":[{"data":{"name":"a3"},"mark":"rect","encoding":{"x":{"field":"c","type":"ordinal","scale":{"type":"band","range":[9,203]},"axis":null},"y":{"field":"r","type":"ordinal","scale":{"type":"band","range":[62,195]},"axis":null},"color":{"field":"v","type":"quantitative","legend":null,"scale":{"interpolate":"rgb","domain":[-20,0,20],"range":["#0000ff","#ffffff","#ff0000"]}},"stroke":{"field":"v","type":"quantitative","legend":null,"scale":{"interpolate":"rgb","domain":[-20,0,20],"range":["#0000ff","#ffffff","#ff0000"]}}}},{"data":{"name":"gA"},"mark":{"type":"rect","color":"#969696"},"encoding":{"x":{"field":"a","type":"quantitative","scale":{"domain":[0,1],"range":[9,203]},"axis":{"values":[0.052,0.275,0.492,0.71,0.922],"labelExpr":"{'0.052':'P','0.275':'R','0.492':'A','0.71':'L','0.922':'P'}[datum.value]","labelColor":"#c8c8c8","labelFontSize":11,"labelFontWeight":"bold","labelPadding":0,"labelFlush":false,"labelOverlap":false,"offset":-64,"title":null}},"x2":{"field":"b"},"y":{"field":"c","type":"quantitative","scale":{"domain":[0,1],"range":[195,256]},"axis":null},"y2":{"field":"d"}}}],"resolve":{"scale":{"x":"independent","y":"independent"}}},
{"width":57,"height":328,"title":{"text":"+20 Gy","offset":-60},"data":{"name":"cf"},"mark":"rect","encoding":{"x":{"field":"k","type":"nominal","scale":{"type":"band","range":[16,39]},"axis":{"labels":false,"title":"-20 Gy","titleColor":"#d8d8d8","titleFontSize":17,"titleFontWeight":"normal","titleX":31,"titleY":-52,"titleBaseline":"middle"}},"y":{"field":"r","type":"ordinal","scale":{"type":"band","range":[63,256]},"axis":null},"color":{"field":"v","type":"quantitative","legend":null,"scale":{"interpolate":"rgb","domain":[-20,0,20],"range":["#0000ff","#ffffff","#ff0000"]}},"stroke":{"field":"v","type":"quantitative","legend":null,"scale":{"interpolate":"rgb","domain":[-20,0,20],"range":["#0000ff","#ffffff","#ff0000"]}}}},
{"width":75,"height":324,"view":{"fill":"white"},"data":{"values":[{"t":"B"}]},"mark":{"type":"text","fontSize":38,"font":"Lato","color":"#222222","dx":-12,"dy":138},"encoding":{"text":{"field":"t"}}},
{"width":65,"height":324,"title":{"text":"74 Gy","offset":-60,"dx":-7},"data":{"name":"cd"},"mark":"rect","encoding":{"x":{"field":"k","type":"nominal","scale":{"type":"band","range":[13,35]},"axis":{"labels":false,"title":"0 Gy","titleColor":"#d8d8d8","titleFontSize":17,"titleFontWeight":"normal","titleX":21,"titleY":-47,"titleBaseline":"middle"}},"y":{"field":"r","type":"ordinal","scale":{"type":"band","range":[63,257]},"axis":null},"color":{"field":"v","type":"quantitative","legend":null,"scale":{"interpolate":"rgb","domain":[0,25,35,44,74],"range":["#0000ff","#959585","#d2d200","#ffff00","#ff0000"]}},"stroke":{"field":"v","type":"quantitative","legend":null,"scale":{"interpolate":"rgb","domain":[0,25,35,44,74],"range":["#0000ff","#959585","#d2d200","#ffff00","#ff0000"]}}}},
{"width":211,"height":324,"title":{"text":"Planned DSM","offset":-60},"layer":[{"data":{"name":"b1"},"mark":"rect","encoding":{"x":{"field":"c","type":"ordinal","scale":{"type":"band","range":[8,202]},"axis":null},"y":{"field":"r","type":"ordinal","scale":{"type":"band","range":[63,235]},"axis":null},"color":{"field":"v","type":"quantitative","legend":null,"scale":{"interpolate":"rgb","domain":[0,25,35,44,74],"range":["#0000ff","#959585","#d2d200","#ffff00","#ff0000"]}},"stroke":{"field":"v","type":"quantitative","legend":null,"scale":{"interpolate":"rgb","domain":[0,25,35,44,74],"range":["#0000ff","#959585","#d2d200","#ffff00","#ff0000"]}}}},{"data":{"name":"lab"},"mark":{"type":"rect","opacity":0},"encoding":{"x":{"field":"a","type":"quantitative","scale":{"domain":[0,1],"range":[8,202]},"axis":{"values":[0.052,0.275,0.492,0.71,0.922],"labelExpr":"{'0.052':'P','0.275':'R','0.492':'A','0.71':'L','0.922':'P'}[datum.value]","labelColor":"#c8c8c8","labelFontSize":11,"labelFontWeight":"bold","labelPadding":0,"labelFlush":false,"labelOverlap":false,"offset":-83,"title":null}},"x2":{"field":"b"}}}],"resolve":{"scale":{"x":"independent","y":"independent"}}},
{"width":211,"height":324,"title":{"text":"Accumulated DSM","offset":-60,"dx":1},"layer":[{"data":{"name":"b2"},"mark":"rect","encoding":{"x":{"field":"c","type":"ordinal","scale":{"type":"band","range":[10,204]},"axis":null},"y":{"field":"r","type":"ordinal","scale":{"type":"band","range":[63,202]},"axis":null},"color":{"field":"v","type":"quantitative","legend":null,"scale":{"interpolate":"rgb","domain":[0,25,35,44,74],"range":["#0000ff","#959585","#d2d200","#ffff00","#ff0000"]}},"stroke":{"field":"v","type":"quantitative","legend":null,"scale":{"interpolate":"rgb","domain":[0,25,35,44,74],"range":["#0000ff","#959585","#d2d200","#ffff00","#ff0000"]}}}},{"data":{"name":"lab"},"mark":{"type":"rect","opacity":0},"encoding":{"x":{"field":"a","type":"quantitative","scale":{"domain":[0,1],"range":[10,204]},"axis":{"values":[0.052,0.275,0.492,0.71,0.922],"labelExpr":"{'0.052':'P','0.275':'R','0.492':'A','0.71':'L','0.922':'P'}[datum.value]","labelColor":"#c8c8c8","labelFontSize":11,"labelFontWeight":"bold","labelPadding":0,"labelFlush":false,"labelOverlap":false,"offset":-115,"title":null}},"x2":{"field":"b"}}}],"resolve":{"scale":{"x":"independent","y":"independent"}}},
{"width":212,"height":324,"title":{"text":"Difference DSM","offset":-60},"layer":[{"data":{"name":"b3"},"mark":"rect","encoding":{"x":{"field":"c","type":"ordinal","scale":{"type":"band","range":[11,206]},"axis":null},"y":{"field":"r","type":"ordinal","scale":{"type":"band","range":[63,200]},"axis":null},"color":{"field":"v","type":"quantitative","legend":null,"scale":{"interpolate":"rgb","domain":[-20,0,20],"range":["#0000ff","#ffffff","#ff0000"]}},"stroke":{"field":"v","type":"quantitative","legend":null,"scale":{"interpolate":"rgb","domain":[-20,0,20],"range":["#0000ff","#ffffff","#ff0000"]}}}},{"data":{"name":"gA"},"mark":{"type":"rect","color":"#969696"},"encoding":{"x":{"field":"a","type":"quantitative","scale":{"domain":[0,1],"range":[11,206]},"axis":{"values":[0.052,0.275,0.492,0.71,0.922],"labelExpr":"{'0.052':'P','0.275':'R','0.492':'A','0.71':'L','0.922':'P'}[datum.value]","labelColor":"#c8c8c8","labelFontSize":11,"labelFontWeight":"bold","labelPadding":0,"labelFlush":false,"labelOverlap":false,"offset":-83,"title":null}},"x2":{"field":"b"},"y":{"field":"c","type":"quantitative","scale":{"domain":[0,1],"range":[200,235]},"axis":null},"y2":{"field":"d"}}}],"resolve":{"scale":{"x":"independent","y":"independent"}}},
{"width":57,"height":324,"title":{"text":"+20 Gy","offset":-60},"data":{"name":"cf"},"mark":"rect","encoding":{"x":{"field":"k","type":"nominal","scale":{"type":"band","range":[19,43]},"axis":{"labels":false,"title":"-20 Gy","titleColor":"#d8d8d8","titleFontSize":17,"titleFontWeight":"normal","titleX":31,"titleY":-47,"titleBaseline":"middle"}},"y":{"field":"r","type":"ordinal","scale":{"type":"band","range":[62,257]},"axis":null},"color":{"field":"v","type":"quantitative","legend":null,"scale":{"interpolate":"rgb","domain":[-20,0,20],"range":["#0000ff","#ffffff","#ff0000"]}},"stroke":{"field":"v","type":"quantitative","legend":null,"scale":{"interpolate":"rgb","domain":[-20,0,20],"range":["#0000ff","#ffffff","#ff0000"]}}}}
]}
